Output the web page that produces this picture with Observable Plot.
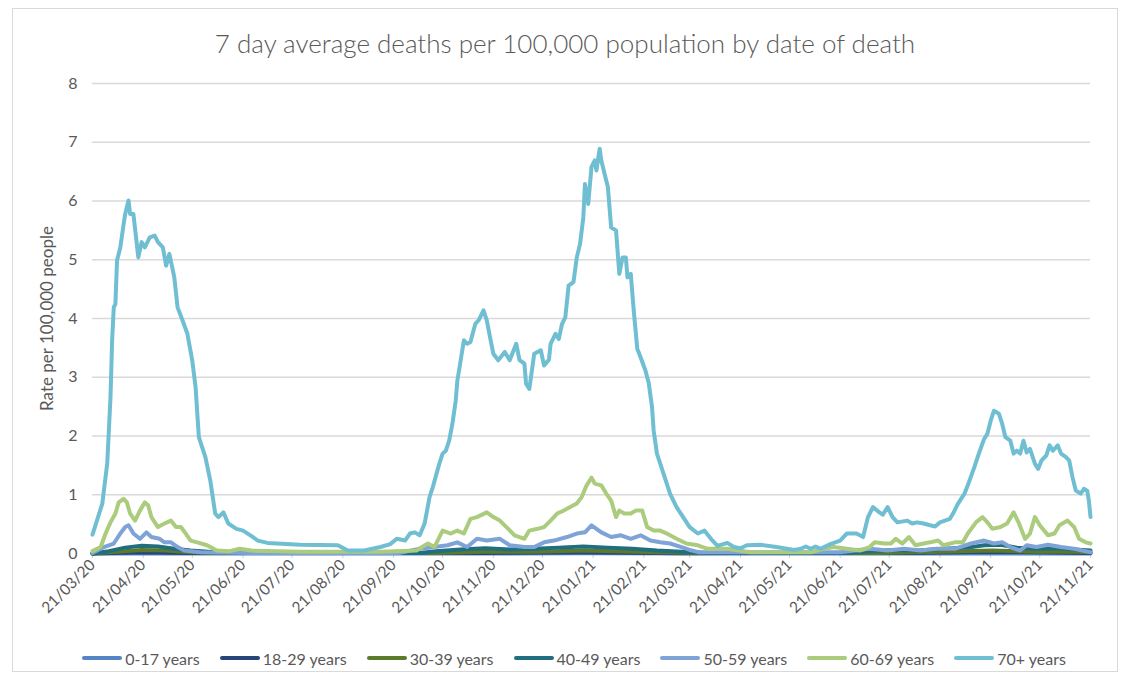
<!DOCTYPE html>
<html>
<head>
<meta charset="utf-8">
<script src="https://cdn.jsdelivr.net/npm/d3@7"></script>
<script src="https://cdn.jsdelivr.net/npm/@observablehq/plot@0.6"></script>
<style>
  body { margin: 0; background: #fff; font-family: Lato, "Open Sans", sans-serif; }
  #frame { position: absolute; left: 12px; top: 8px; width: 1104px; height: 662px; border: 1px solid #d9d9d9; background: #fff; }
  #title { position: absolute; left: 0; top: 19px; width: 100%; text-align: center; font-size: 26px; font-weight: 300; color: #595959; line-height: 30px; }
  #chart { position: absolute; left: 0; top: 51px; }
  #legend { position: absolute; left: 9px; top: 639px; width: 100%; height: 20px; display: flex; justify-content: center; align-items: center; gap: 20px; font-size: 16px; color: #595959; }
  .item { display: flex; align-items: center; gap: 3px; }
  .sw { width: 40px; height: 4px; border-radius: 2px; }
</style>
</head>
<body>
<div id="frame">
  <div id="title">7 day average deaths per 100,000 population by date of death</div>
  <div id="chart"></div>
  <div id="legend"></div>
</div>
<script>
// Series names and colours
const seriesNames = ["0-17 years", "18-29 years", "30-39 years", "40-49 years", "50-59 years", "60-69 years", "70+ years"];
const seriesColors = ["#5585C5", "#26467A", "#5C7A2C", "#206E7E", "#7EA3D6", "#ABCB7D", "#6FBED2"];

// Axis ticks
const yTicks = [0, 1, 2, 3, 4, 5, 6, 7, 8];
const xTickLabels = ["2020-03-21","2020-04-21","2020-05-21","2020-06-21","2020-07-21","2020-08-21","2020-09-21","2020-10-21","2020-11-21","2020-12-21","2021-01-21","2021-02-21","2021-03-21","2021-04-21","2021-05-21","2021-06-21","2021-07-21","2021-08-21","2021-09-21","2021-10-21","2021-11-21"];
const startDate = "2020-03-21";
const endDate = "2021-11-21";

// Days since 21/03/20 and rates per 100,000
const days017 = [0, 150, 300, 450, 610];
const vals017 = [0, 0, 0.003, 0, 0];

const days1829 = [0, 30, 60, 240, 300, 360, 500, 545, 580, 610];
const vals1829 = [0, 0.02, 0.01, 0.01, 0.02, 0.005, 0.01, 0.03, 0.02, 0.01];

const days3039 = [0,15,30,45,60,80,210,240,270,300,320,345,370,480,520,550,575,600,610];
const vals3039 = [0,0.03,0.06,0.05,0.02,0.01,0.01,0.03,0.03,0.05,0.04,0.02,0.01,0.01,0.03,0.05,0.03,0.03,0.02];

const days4049 = [0,10,20,30,40,50,60,75,90,200,210,225,240,255,270,285,300,315,330,345,360,375,460,475,490,505,520,535,545,555,565,575,590,600,610];
const vals4049 = [0,0.04,0.1,0.13,0.12,0.08,0.05,0.02,0.01,0.01,0.04,0.07,0.09,0.07,0.08,0.1,0.12,0.1,0.08,0.05,0.03,0.01,0.01,0.04,0.06,0.05,0.08,0.1,0.14,0.15,0.1,0.08,0.09,0.07,0.05];

const days5059 = [0,7,13,17,20,22,25,29,33,36,41,44,48,52,56,60,66,97,188,200,209,217,223,229,235,241,249,255,264,270,276,282,290,296,301,305,311,317,323,329,335,341,347,353,360,365,371,457,475,486,496,506,516,527,537,545,551,556,561,567,571,577,584,592,600,610];
const vals5059 = [0.01,0.11,0.17,0.34,0.45,0.48,0.34,0.25,0.36,0.28,0.25,0.19,0.19,0.11,0.05,0.04,0.02,0.01,0.01,0.08,0.11,0.14,0.19,0.11,0.25,0.22,0.25,0.14,0.11,0.11,0.19,0.22,0.28,0.34,0.36,0.48,0.36,0.28,0.31,0.25,0.31,0.22,0.19,0.17,0.11,0.06,0.02,0.02,0.08,0.05,0.08,0.05,0.08,0.08,0.17,0.22,0.17,0.19,0.11,0.05,0.14,0.11,0.15,0.11,0.08,0.02];

const days6069 = [0,5,8,11,14,16,19,21,23,26,29,32,34,36,40,44,48,51,54,57,60,64,70,76,84,90,97,127,176,198,205,209,214,219,223,227,231,235,241,245,249,253,258,264,267,272,276,280,284,288,292,296,299,302,305,307,311,314,317,320,322,325,329,332,336,339,343,347,351,357,363,370,376,388,402,439,447,453,461,469,475,478,484,488,491,495,499,503,508,512,517,520,527,532,535,540,544,547,550,555,559,563,566,570,573,576,579,584,588,591,596,600,603,607,610];
const vals6069 = [0.04,0.11,0.34,0.53,0.68,0.87,0.93,0.87,0.68,0.56,0.73,0.87,0.82,0.62,0.45,0.51,0.56,0.45,0.45,0.34,0.22,0.19,0.14,0.05,0.04,0.08,0.05,0.03,0.03,0.05,0.17,0.11,0.39,0.34,0.39,0.34,0.59,0.62,0.70,0.62,0.56,0.45,0.31,0.25,0.39,0.42,0.45,0.56,0.68,0.73,0.79,0.85,0.96,1.16,1.29,1.19,1.16,1.02,0.90,0.62,0.73,0.68,0.68,0.73,0.73,0.45,0.39,0.39,0.34,0.25,0.17,0.14,0.08,0.08,0.02,0.02,0.08,0.11,0.08,0.05,0.11,0.19,0.17,0.17,0.25,0.17,0.28,0.14,0.17,0.19,0.22,0.14,0.19,0.19,0.34,0.53,0.62,0.53,0.42,0.45,0.51,0.70,0.53,0.25,0.34,0.62,0.48,0.31,0.34,0.48,0.56,0.45,0.25,0.19,0.17];

const days70 = [0,6,9,11,12,13,14,15,17,19,20,22,23,25,28,30,32,35,38,40,43,45,47,50,52,55,58,61,63,65,69,72,75,77,80,83,88,92,97,101,107,127,150,156,166,176,182,186,191,194,197,200,203,206,208,210,212,214,216,218,220,222,223,225,227,229,231,234,236,239,241,243,245,248,252,255,259,261,264,265,267,270,274,276,279,280,283,285,287,289,291,294,296,298,300,301,303,305,307,308,310,311,313,315,317,320,322,324,326,327,329,331,333,335,338,340,342,343,345,349,353,357,361,365,370,374,378,382,388,392,396,400,408,418,429,433,436,439,442,445,451,457,461,467,471,474,477,481,483,486,489,492,498,501,504,508,512,515,518,521,524,526,529,533,535,539,542,545,547,549,551,554,556,558,561,563,565,567,569,571,573,576,578,580,583,585,587,590,592,595,597,599,601,604,606,608,609,610];
const vals70 = [0.32,0.85,1.53,2.66,3.63,4.19,4.25,4.99,5.21,5.6,5.78,6.01,5.78,5.78,5.04,5.3,5.21,5.38,5.41,5.3,5.21,4.9,5.1,4.7,4.19,3.97,3.74,3.28,2.83,1.98,1.64,1.24,0.68,0.62,0.70,0.51,0.42,0.39,0.30,0.22,0.18,0.15,0.14,0.05,0.05,0.11,0.16,0.25,0.22,0.34,0.36,0.31,0.51,0.96,1.13,1.33,1.53,1.70,1.75,1.92,2.21,2.6,2.94,3.28,3.63,3.57,3.6,3.91,3.97,4.14,3.97,3.68,3.4,3.29,3.43,3.29,3.57,3.29,3.23,2.89,2.80,3.4,3.46,3.2,3.3,3.57,3.74,3.65,3.91,4.02,4.56,4.62,5.04,5.27,5.72,6.29,5.95,6.58,6.69,6.52,6.89,6.69,6.46,6.24,5.55,5.5,4.76,5.04,5.04,4.7,4.76,4.08,3.48,3.34,3.11,2.9,2.49,2.09,1.70,1.36,1.02,0.79,0.62,0.45,0.34,0.39,0.25,0.13,0.18,0.11,0.09,0.14,0.15,0.11,0.06,0.08,0.12,0.08,0.12,0.08,0.16,0.22,0.34,0.34,0.28,0.62,0.79,0.70,0.66,0.79,0.62,0.53,0.56,0.51,0.53,0.51,0.48,0.46,0.53,0.56,0.59,0.68,0.85,1.02,1.16,1.47,1.72,1.95,2.04,2.26,2.43,2.38,2.21,1.98,1.92,1.70,1.75,1.70,1.92,1.72,1.78,1.53,1.44,1.58,1.67,1.84,1.75,1.84,1.70,1.64,1.58,1.30,1.07,1.02,1.10,1.07,0.90,0.62];

const seriesDays = [days017, days1829, days3039, days4049, days5059, days6069, days70];
const seriesVals = [vals017, vals1829, vals3039, vals4049, vals5059, vals6069, vals70];

const parse = d3.utcParse("%Y-%m-%d");
const start = parse(startDate);
const end = parse(endDate);
const xTicks = xTickLabels.map(parse);

const lineMarks = seriesNames.map((name, i) => {
  const data = seriesDays[i].map((d, j) => ({date: d3.utcDay.offset(start, d), value: seriesVals[i][j]}));
  return Plot.line(data, {x: "date", y: "value", stroke: seriesColors[i], strokeWidth: 4, strokeLinejoin: "round", strokeLinecap: "round"});
});

const chart = Plot.plot({
  width: 1104,
  height: 580,
  marginLeft: 79,
  marginRight: 27,
  marginTop: 23,
  marginBottom: 87,
  x: {type: "utc", domain: [start, end]},
  y: {domain: [0, 8]},
  style: {fontFamily: "Lato, 'Open Sans', sans-serif", fontSize: "15px", color: "#595959", background: "white"},
  marks: [
    Plot.gridY(yTicks.filter(d => d > 0), {stroke: "#d9d9d9", strokeOpacity: 1, strokeWidth: 1.4}),
    Plot.ruleY([0], {stroke: "#d9d9d9", strokeWidth: 1.4}),
    Plot.axisY({ticks: yTicks, tickSize: 0, tickPadding: 15, label: null, fontSize: 16, fill: "#595959"}),
    Plot.axisX({ticks: xTicks, tickFormat: d3.utcFormat("%d/%m/%y"), tickRotate: -45, tickSize: 5, tickPadding: 4, stroke: "#d0d0d0", fill: "#595959", label: null, fontSize: 15.5}),
    Plot.text(["Rate per 100,000 people"], {frameAnchor: "left", textAnchor: "middle", dx: -45, rotate: -90, fontSize: 17, fill: "#595959"}),
    ...lineMarks
  ]
});
document.getElementById("chart").appendChild(chart);

const legend = document.getElementById("legend");
seriesNames.forEach((name, i) => {
  const item = document.createElement("div");
  item.className = "item";
  const sw = document.createElement("div");
  sw.className = "sw";
  sw.style.background = seriesColors[i];
  const lab = document.createElement("span");
  lab.textContent = name;
  item.appendChild(sw);
  item.appendChild(lab);
  legend.appendChild(item);
});
</script>
</body>
</html>
